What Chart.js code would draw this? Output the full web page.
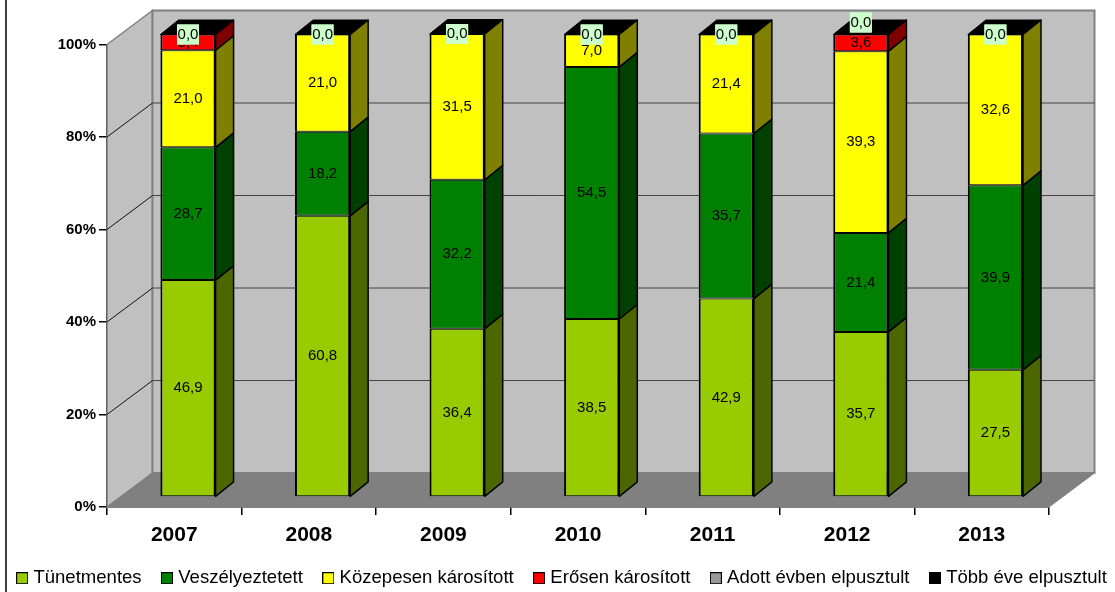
<!DOCTYPE html>
<html>
<head>
<meta charset="utf-8">
<title>Károsítás évenként</title>
<script src="https://cdn.jsdelivr.net/npm/chart.js@4"></script>
<style>
    html, body { margin: 0; padding: 0; background: #fff; overflow: hidden; }
    #wrap { position: relative; width: 1115px; height: 592px; }
</style>
</head>
<body>
<div id="wrap"><canvas id="chart"></canvas></div>
<script>
const years = ['2007', '2008', '2009', '2010', '2011', '2012', '2013']

const tunetmentes = [46.9, 60.8, 36.4, 38.5, 42.9, 35.7, 27.5]
const veszelyeztetett = [28.7, 18.2, 32.2, 54.5, 35.7, 21.4, 39.9]
const kozepesen = [21.0, 21.0, 31.5, 7.0, 21.4, 39.3, 32.6]
const erosen = [3.4, 0, 0, 0, 0, 3.6, 0]
const adottEvben = [0, 0, 0, 0, 0, 0, 0]
const tobbEve = [0, 0, 0, 0, 0, 0, 0]

const fontName = '"Liberation Sans", Arial, sans-serif'

// depth of the box behind the axes, and of each column
const wallDx = 45.5
const wallDy = -34
const barDx = 18
const barDy = -14.5
// columns stand partway back on the floor
const barShiftX = 13.7
const barShiftY = -10

// the 0,0 label of this year was moved up above the column
const labelLift = { '2012': -12 }

function polygon(ctx, points, fill, stroke, lineWidth) {
    ctx.beginPath()
    points.forEach((p, i) => i ? ctx.lineTo(p[0], p[1]) : ctx.moveTo(p[0], p[1]))
    ctx.closePath()
    if (fill) {
        ctx.fillStyle = fill
        ctx.fill()
    }
    if (stroke) {
        ctx.strokeStyle = stroke
        ctx.lineWidth = lineWidth || 1
        ctx.stroke()
    }
}

function line(ctx, x1, y1, x2, y2, color, width) {
    ctx.beginPath()
    ctx.moveTo(x1, y1)
    ctx.lineTo(x2, y2)
    ctx.strokeStyle = color
    ctx.lineWidth = width
    ctx.stroke()
}

const boxPlugin = {
    id: 'box3d',
    beforeDraw(chart) {
        const ctx = chart.ctx
        ctx.save()
        line(ctx, 6, 0, 6, 592, '#000', 1.5)
        ctx.restore()
    },
    beforeDatasetsDraw(chart) {
        const ctx = chart.ctx
        const { left, right } = chart.chartArea
        const y = chart.scales.y
        const top = y.getPixelForValue(100)
        const bottom = y.getPixelForValue(0)
        ctx.save()

        // left wall, back wall, floor
        polygon(ctx, [[left, top], [left + wallDx, top + wallDy], [left + wallDx, bottom + wallDy], [left, bottom]], '#c0c0c0', '#808080', 1.5)
        polygon(ctx, [[left + wallDx, top + wallDy], [right + wallDx, top + wallDy], [right + wallDx, bottom + wallDy], [left + wallDx, bottom + wallDy]], '#c0c0c0', '#808080', 2)
        polygon(ctx, [[left, bottom], [left + wallDx, bottom + wallDy], [right + wallDx, bottom + wallDy], [right, bottom]], '#808080', '#808080', 1)

        // gridlines run along both walls
        for (let v = 20; v < 100; v += 20) {
            const py = y.getPixelForValue(v)
            line(ctx, left, py, left + wallDx, py + wallDy, '#111', 1)
            line(ctx, left + wallDx, py + wallDy, right + wallDx, py + wallDy, '#444', 1)
        }
        ctx.restore()

        // side and top faces of the columns
        ctx.save()
        ctx.translate(barShiftX, barShiftY)
        ctx.lineJoin = 'round'
        chart.data.datasets.forEach((ds, di) => {
            chart.getDatasetMeta(di).data.forEach(bar => {
                const { x, y: barTop, base, width } = bar.getProps(['x', 'y', 'base', 'width'])
                if (base - barTop < 0.01) return
                const edge = x + width / 2
                polygon(ctx, [[edge, barTop], [edge + barDx, barTop + barDy], [edge + barDx, base + barDy], [edge, base]], ds.sideColor, '#000', 1.5)
            })
        })
        const last = chart.data.datasets.length - 1
        chart.getDatasetMeta(last).data.forEach(bar => {
            const { x, y: barTop, width } = bar.getProps(['x', 'y', 'width'])
            const l = x - width / 2
            const r = x + width / 2
            polygon(ctx, [[l, barTop], [l + barDx, barTop + barDy], [r + barDx, barTop + barDy], [r, barTop]], '#000', '#000', 1)
        })
        ctx.restore()
    },
    beforeDatasetDraw(chart) {
        chart.ctx.save()
        chart.ctx.translate(barShiftX, barShiftY)
    },
    afterDatasetDraw(chart) {
        chart.ctx.restore()
    },
    afterDatasetsDraw(chart) {
        const ctx = chart.ctx
        ctx.save()
        ctx.translate(barShiftX, barShiftY)
        ctx.font = '15px ' + fontName
        ctx.textAlign = 'center'
        ctx.textBaseline = 'middle'
        chart.data.datasets.forEach((ds, di) => {
            chart.getDatasetMeta(di).data.forEach((bar, i) => {
                const value = ds.data[i]
                const { x, y: barTop, base } = bar.getProps(['x', 'y', 'base'])
                let cy = (barTop + base) / 2
                if (value === 0) {
                    // empty series only show at the top of the stack
                    const stackTop = chart.getDatasetMeta(chart.data.datasets.length - 1).data[i].getProps(['y']).y
                    cy = stackTop + (labelLift[years[i]] || 0)
                    if (di < 4) return
                    ctx.fillStyle = '#ccffcc'
                    ctx.fillRect(x - 11, cy - 10, 22, 20)
                }
                ctx.fillStyle = '#000'
                ctx.fillText(value.toFixed(1).replace('.', ','), x, cy)
            })
        })
        ctx.restore()
    }
}

// square with a thin outline, pushed left of the legend text
function swatch(color) {
    const c = document.createElement('canvas')
    c.width = 12
    c.height = 12
    const g = c.getContext('2d')
    g.fillStyle = '#000'
    g.fillRect(0, 0, 12, 12)
    g.fillStyle = color
    g.fillRect(1, 1, 10, 10)
    return c
}

function makeDataset(label, data, color, sideColor) {
    return {
        label,
        data,
        backgroundColor: color,
        sideColor,
        borderColor: '#000',
        borderWidth: { top: 1, bottom: 1, left: 2, right: 2 },
        borderSkipped: false,
        barPercentage: 0.41,
        categoryPercentage: 1,
        clip: false
    }
}

const ctx = document.getElementById('chart').getContext('2d')

new Chart(ctx, {
    type: 'bar',
    plugins: [boxPlugin],
    data: {
        labels: years,
        datasets: [
            makeDataset('Tünetmentes', tunetmentes, '#99cc00', '#4c6600'),
            makeDataset('Veszélyeztetett', veszelyeztetett, '#008000', '#004000'),
            makeDataset('Közepesen károsított', kozepesen, '#ffff00', '#808000'),
            makeDataset('Erősen károsított', erosen, '#ff0000', '#800000'),
            makeDataset('Adott évben elpusztult', adottEvben, '#999999', '#4c4c4c'),
            makeDataset('Több éve elpusztult', tobbEve, '#000000', '#000000')
        ]
    },
    options: {
        responsive: true,
        maintainAspectRatio: false,
        animation: false,
        events: [],
        // negative sides let the one legend row run nearly the full width
        layout: { padding: { top: 44.5, right: -18, bottom: -5.5, left: -6 } },
        scales: {
            x: {
                stacked: true,
                afterFit(scale) { scale.height = 38.5 },
                grid: { offset: true, drawOnChartArea: false, drawTicks: true, tickLength: 8, color: '#000', lineWidth: 1.5 },
                border: { color: '#000', width: 1.5 },
                ticks: { color: '#000', font: { family: fontName, size: 21, weight: 'bold' }, padding: 8, maxRotation: 0 }
            },
            y: {
                stacked: true,
                min: 0,
                max: 100,
                afterFit(scale) { scale.width = 113 },
                grid: { drawOnChartArea: false, drawTicks: true, tickLength: 8, color: '#000', lineWidth: 1.5 },
                border: { color: '#000', width: 1.5 },
                ticks: {
                    stepSize: 20,
                    color: '#000',
                    padding: 3,
                    font: { family: fontName, size: 15, weight: 'bold' },
                    callback: v => v + '%'
                }
            },
            // empty axis keeps room on the right for the depth of the box
            yRoom: {
                position: 'right',
                afterFit(scale) { scale.width = 84 },
                grid: { display: false },
                border: { display: false },
                ticks: { display: false }
            }
        },
        plugins: {
            title: { display: false },
            tooltip: { enabled: false },
            legend: {
                position: 'bottom',
                labels: {
                    color: '#000',
                    font: { family: fontName, size: 18.55 },
                    padding: 23.4,
                    usePointStyle: true,
                    pointStyleWidth: 4,
                    generateLabels(chart) {
                        return Chart.defaults.plugins.legend.labels.generateLabels(chart).map((item, i) => {
                            item.pointStyle = swatch(chart.data.datasets[i].backgroundColor)
                            return item
                        })
                    }
                }
            }
        }
    }
})
</script>
</body>
</html>
